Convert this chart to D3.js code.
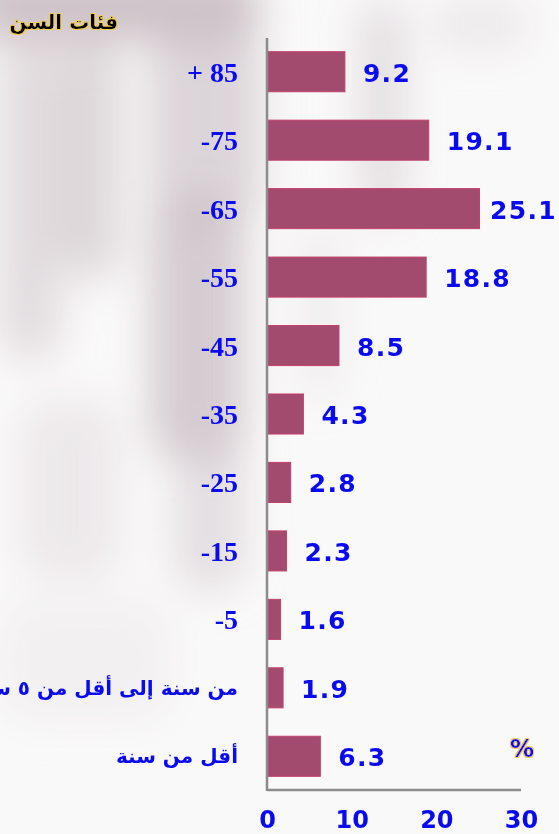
<!DOCTYPE html>
<html><head><meta charset="utf-8">
<script src="https://cdn.jsdelivr.net/npm/d3@7"></script>
<style>
html,body{margin:0;padding:0;background:#fff;}
svg{display:block;}
</style></head>
<body>
<svg id="c" width="559" height="834"></svg>
<script>
const categories = ["+ 85","-75","-65","-55","-45","-35","-25","-15","-5","من سنة إلى أقل من ٥ سنوات","أقل من سنة"];
const values = [9.2,19.1,25.1,18.8,8.5,4.3,2.8,2.3,1.6,1.9,6.3];
const xTicks = [0,10,20,30];
const title = "فئات السن";
const unit = "%";

const W = 559, H = 834;
const svg = d3.select("#c");
const defs = svg.append("defs");

// background texture
const blur = defs.append("filter").attr("id","blur").attr("x","-50%").attr("y","-50%").attr("width","200%").attr("height","200%");
blur.append("feGaussianBlur").attr("stdDeviation",20);
const glow = defs.append("filter").attr("id","glow").attr("x","-10%").attr("y","-20%").attr("width","120%").attr("height","140%");
glow.append("feMorphology").attr("in","SourceAlpha").attr("operator","dilate").attr("radius",0.9).attr("result","d");
glow.append("feGaussianBlur").attr("in","d").attr("stdDeviation",0.7).attr("result","b");
glow.append("feFlood").attr("flood-color","#f0cc55");
glow.append("feComposite").attr("in2","b").attr("operator","in").attr("result","g");
const m = glow.append("feMerge");
m.append("feMergeNode").attr("in","g");
m.append("feMergeNode").attr("in","SourceGraphic");

svg.append("rect").attr("width",W).attr("height",H).attr("fill","#faf9f9");
const bg = svg.append("g").attr("filter","url(#blur)");
const blobs = [
  [-30,-30,290,70,"#bdb0b7",0.75],[0,40,60,320,"#cdc3c8",0.55],[60,40,60,240,"#c5b9bf",0.55],
  [150,20,110,200,"#c6bbc1",0.6],[150,200,95,260,"#bcaeb6",0.6],
  [175,440,70,150,"#cec4c9",0.5],[20,400,100,180,"#e0dadd",0.5],[360,0,45,220,"#d2ccd0",0.6],
  [430,0,100,50,"#e2dee0",0.6],[300,220,40,180,"#e2dee0",0.45],[0,600,170,120,"#ebe7e9",0.5]
];
bg.selectAll("rect").data(blobs).join("rect")
  .attr("x",d=>d[0]).attr("y",d=>d[1]).attr("width",d=>d[2]).attr("height",d=>d[3])
  .attr("rx",30).attr("fill",d=>d[4]).attr("opacity",d=>d[5]);

const x0 = 267, yTop = 38, yBot = 790;
const x = d3.scaleLinear().domain([0,30]).range([x0, 521]);
const y = d3.scaleBand().domain(categories).range([38, 790]).paddingInner(0.415).paddingOuter(0.2);
const isAr = s => /[\u0600-\u06FF]/.test(s);

// bars
svg.append("g").selectAll("rect").data(values).join("rect")
  .attr("x", x(0)+1)
  .attr("y",(d,i)=>y(categories[i]))
  .attr("width",d=>x(d)-x(0)-1)
  .attr("height",y.bandwidth())
  .attr("fill","#a34b6f").attr("stroke","#c2416b").attr("stroke-width",1);

// value labels
svg.append("g").selectAll("text").data(values).join("text")
  .attr("y",(d,i)=>y(categories[i])+y.bandwidth()/2+10)
  .attr("fill","#0a0af0")
  .attr("font-family","'DejaVu Sans', Verdana, sans-serif")
  .attr("font-weight","bold").attr("font-size",25)
  .attr("letter-spacing",1.3)
  .text(d=>d.toFixed(1))
  .each(function(d){
    const w = this.getComputedTextLength();
    d3.select(this).attr("x", Math.min(x(d)+18, W - w - 2));
  });

// category labels
svg.append("g").selectAll("text").data(categories).join("text")
  .attr("x",238)
  .attr("y",d=>y(d)+y.bandwidth()/2+(isAr(d)?7:10))
  .attr("text-anchor","end")
  .attr("direction","ltr")
  .attr("fill","#0a0af0")
  .attr("font-weight","bold")
  .attr("font-family",d=>isAr(d)?"'DejaVu Sans', sans-serif":"'Liberation Serif','Times New Roman',serif")
  .attr("font-size",d=>isAr(d)?20:28)
  .text(d=>d);

// axes
const xAxis = d3.axisBottom(x).tickValues(xTicks).tickSize(0).tickPadding(21);
const ax = svg.append("g").attr("transform",`translate(0,${yBot})`).call(xAxis);
ax.select(".domain").attr("stroke","#8c8c8c").attr("stroke-width",2.5).attr("d",`M${x0},0H${x(30)}`);
ax.selectAll("text").attr("fill","#0a0af0").attr("font-weight","bold")
  .attr("font-family","'DejaVu Sans', Verdana, sans-serif").attr("font-size",24);

svg.append("line").attr("x1",x0).attr("x2",x0).attr("y1",yTop).attr("y2",yBot+1)
  .attr("stroke","#8c8c8c").attr("stroke-width",2.5);

// title
svg.append("text").attr("x",118).attr("y",29).attr("text-anchor","end")
  .attr("font-family","'DejaVu Sans', sans-serif").attr("font-weight","bold").attr("font-size",20)
  .attr("fill","#000").attr("filter","url(#glow)").text(title);

// unit
svg.append("text").attr("x",522).attr("y",757).attr("text-anchor","middle")
  .attr("font-family","'DejaVu Sans', sans-serif").attr("font-weight","bold").attr("font-size",24)
  .attr("fill","#0a0af0").attr("filter","url(#glow)").text(unit);
</script>
</body></html>
